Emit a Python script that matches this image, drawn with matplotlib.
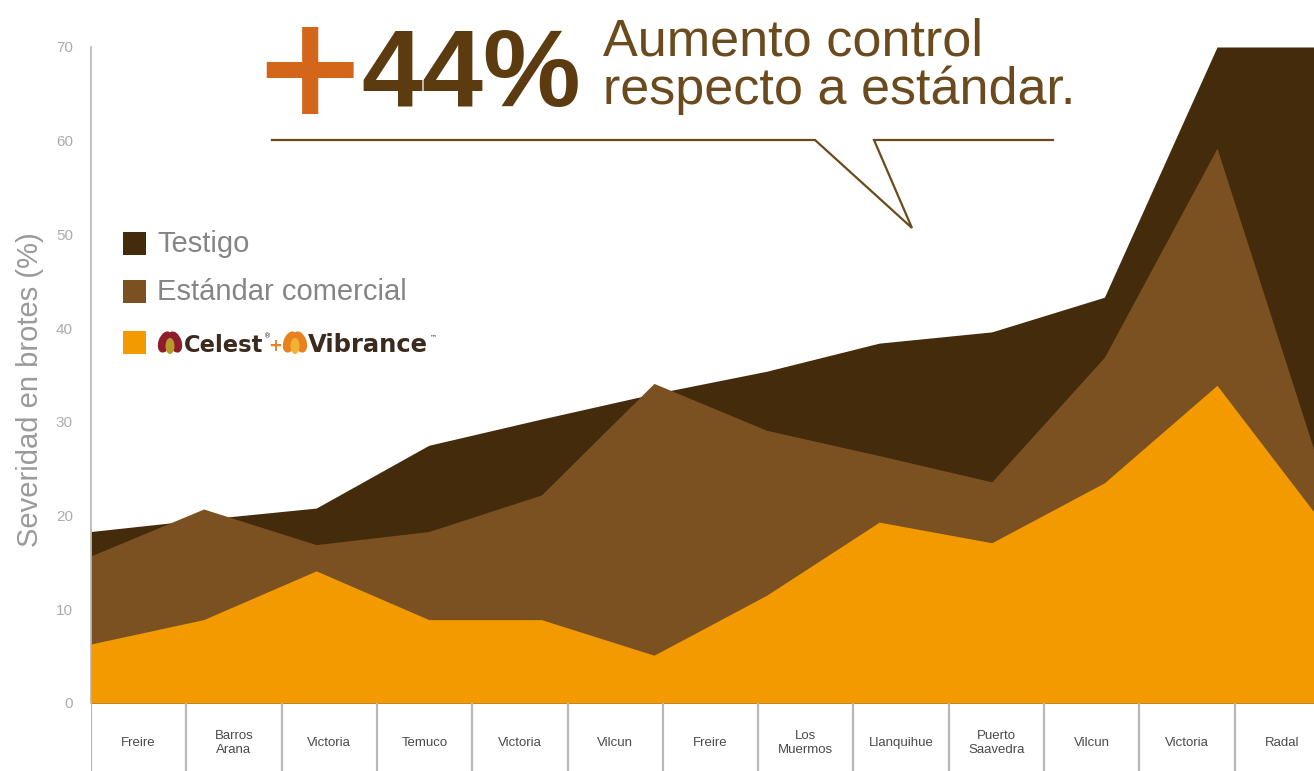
import numpy as np
import matplotlib
matplotlib.use("Agg")
import matplotlib.pyplot as plt
from matplotlib.patches import Rectangle, Ellipse
from matplotlib.lines import Line2D

# ---------------- data ----------------
localidades = ["Freire", "Barros\nArana", "Victoria", "Temuco", "Victoria", "Vilcun",
               "Freire", "Los\nMuermos", "Llanquihue", "Puerto\nSaavedra", "Vilcun",
               "Victoria", "Radal"]
testigo = [18.3, 19.6, 20.8, 27.5, 30.3, 33.0, 35.4, 38.4, 39.6, 43.3, 70.0, 70.0]
estandar = [15.7, 20.7, 16.9, 18.3, 22.2, 34.1, 29.1, 26.4, 23.6, 36.9, 59.2, 21.8]
celest_vibrance = [6.3, 8.9, 14.1, 8.9, 8.9, 5.1, 11.5, 19.3, 17.1, 23.5, 33.9, 18.2]
series_names = ["Testigo", "Estándar comercial", "Celest + Vibrance"]
series_colors = ["#432b0c", "#7b5122", "#f29a00"]
yticks = [0, 10, 20, 30, 40, 50, 60, 70]

W, H = 1314, 771
fig = plt.figure(figsize=(W / 100, H / 100), dpi=100)
fig.patch.set_facecolor("white")

# ---------------- main area chart ----------------
ax = fig.add_axes([91 / W, (H - 703) / H, (W - 91) / W, (703 - 47) / H])
x = np.arange(len(testigo))
for vals, col in zip([testigo, estandar, celest_vibrance], series_colors):
    ax.fill_between(x, 0, vals, color=col, lw=0)
ax.set_xlim(0, (W - 91) / 112.6)
ax.set_ylim(0, 70)
ax.set_yticks(yticks)
ax.set_yticklabels([str(t) for t in yticks], family="Liberation Sans", fontsize=11, color="#ababab")
ax.set_xticks([])
ax.tick_params(axis="y", length=0, pad=13)
for s in ["top", "right", "bottom"]:
    ax.spines[s].set_visible(False)
ax.spines["left"].set_color("#b5b5b5")
ax.spines["left"].set_linewidth(1.2)
ax.spines["left"].set_zorder(5)

fig.text(30 / W, 1 - 390 / H, "Severidad en brotes (%)", rotation=90, ha="center", va="center",
         family="Liberation Sans", fontsize=21, color="#9a9a9a")

# ---------------- category boxes ----------------
bx = fig.add_axes([91 / W, 0, (W - 91) / W, (H - 703) / H])
ncat = len(localidades)
bx.set_xlim(0, (W - 91) / 95.3)
bx.set_ylim(0, 1)
bx.axis("off")
for i in range(ncat + 1):
    bx.axvline(i, color="#b8b8b8", lw=1.6)
for i, lab in enumerate(localidades):
    bx.text(i + 0.5, 0.41, lab, ha="center", va="center", family="Liberation Sans",
            fontsize=9.5, color="#4a4a4a", linespacing=1.3)

# ---------------- overlay (header + legend) ----------------
ov = fig.add_axes([0, 0, 1, 1])
ov.set_xlim(0, W)
ov.set_ylim(H, 0)
ov.axis("off")
ov.patch.set_alpha(0)

ov.text(309, 76, "+", ha="center", va="center", family="DejaVu Sans", fontweight="bold",
        fontsize=100, color="#d4661c")
ov.text(361, 106, "44%", ha="left", va="baseline", family="Liberation Sans", fontweight="bold",
        fontsize=79, color="#5b3b0f")
ov.text(603, 56, "Aumento control", ha="left", va="baseline", family="Liberation Sans",
        fontsize=37.5, color="#6b4a1e")
ov.text(603, 104, "respecto a estándar.", ha="left", va="baseline", family="Liberation Sans",
        fontsize=37.5, color="#6b4a1e")
ov.add_line(Line2D([272, 815, 912, 874, 1053], [140, 140, 228, 140, 140],
                   color="#6b4a1e", lw=1.6, solid_joinstyle="miter"))

# legend
leg_y = [244, 292, 343]
for yy, col in zip(leg_y, series_colors):
    ov.add_patch(Rectangle((123, yy - 12), 23, 23, color=col, lw=0))
ov.text(157, leg_y[0], series_names[0], ha="left", va="center", family="Liberation Sans",
        fontsize=21, color="#858585")
ov.text(157, leg_y[1], series_names[1], ha="left", va="center", family="Liberation Sans",
        fontsize=21, color="#858585")

# Celest / Vibrance logos
def bud(cx, cy, outer, inner):
    ov.add_patch(Ellipse((cx - 5, cy - 1), 13, 22, angle=20, color=outer, lw=0))
    ov.add_patch(Ellipse((cx + 5, cy - 1), 13, 22, angle=-20, color=outer, lw=0))
    ov.add_patch(Ellipse((cx, cy + 3), 9, 16, color=inner, lw=0))

bud(170, 343, "#8e1c2c", "#b59a2a")
ov.text(184, 345, "Celest", ha="left", va="center", family="DejaVu Sans", fontweight="bold",
        fontsize=16.3, color="#3b2a1e")
ov.text(264, 336, "®", ha="left", va="center", family="DejaVu Sans", fontsize=5, color="#3b2a1e")
ov.text(275, 346, "+", ha="center", va="center", family="DejaVu Sans", fontweight="bold",
        fontsize=12, color="#e8821e")
bud(295, 343, "#e8821e", "#f2b335")
ov.text(308, 345, "Vibrance", ha="left", va="center", family="DejaVu Sans", fontweight="bold",
        fontsize=17.5, color="#3b2a1e")
ov.text(430, 337, "™", ha="left", va="center", family="DejaVu Sans", fontsize=5, color="#3b2a1e")

fig.savefig("out.png", dpi=100, facecolor="white")
